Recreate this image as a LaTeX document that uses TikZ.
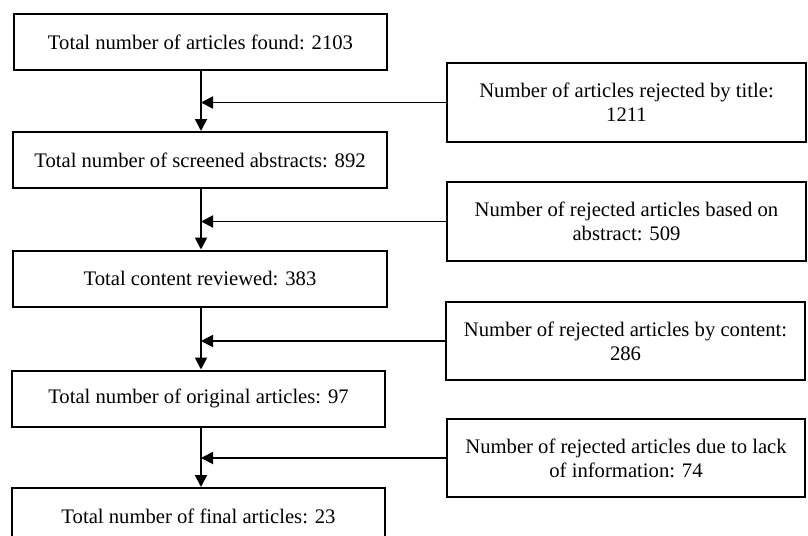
\documentclass[tikz,border=0pt]{standalone}
\usepackage{fontspec}
\setmainfont{Liberation Serif}
\usetikzlibrary{arrows.meta}
\tikzset{
    lbox/.style={draw,line width=1.5pt,inner sep=0,align=center,minimum width=280pt,minimum height=42pt,font=\fontsize{15.5}{18}\selectfont},
    rbox/.style={lbox,minimum width=269pt,minimum height=59pt},
    link/.style={->,line width=1.4pt}
}
\begin{document}
\begin{tikzpicture}[x=.75pt,y=-.75pt,>={Triangle[length=9pt,width=9pt]}]
    \useasboundingbox(0,0)rectangle(808,536);
    \clip(0,0)rectangle(808,536);
    % main column
    \node[lbox](L1)at(200.5,42){Total number of articles found: 2103};
    \node[lbox](L2)at(200,160){Total number of screened abstracts: 892};
    \node[lbox](L3)at(200,278.5){Total content reviewed: 383};
    \node[lbox](L4)at(198.5,398.5){Total number of original articles: 97};
    \node[lbox](L5)at(198.5,516){Total number of final articles: 23};
    % rejections
    \node[rbox](R1)at(626.5,102.5){Number of articles rejected by title:\\1211};
    \node[rbox](R2)at(626.5,221.5){Number of rejected articles based on\\abstract: 509};
    \node[rbox](R3)at(625.5,341){Number of rejected articles by content:\\286};
    \node[rbox](R4)at(626,458){Number of rejected articles due to lack\\of information: 74};
    \coordinate(S)at(201,0);
    \foreach \a/\b/\r in {L1/L2/R1,L2/L3/R2,L3/L4/R3,L4/L5/R4}{
        \draw[link](S|-\a.south)--(S|-\b.north);
        \draw[link](\r.west)--(\r.west-|S);
    }
\end{tikzpicture}
\end{document}
